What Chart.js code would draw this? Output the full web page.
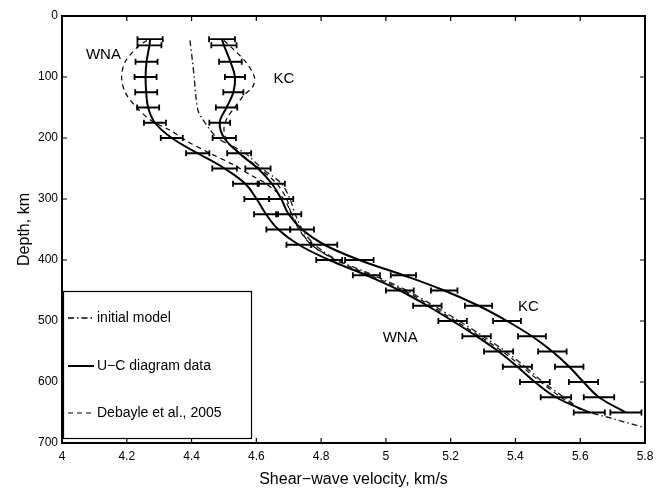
<!DOCTYPE html>
<html>
<head>
<meta charset="utf-8">
<script src="https://cdn.jsdelivr.net/npm/chart.js@4.4.0/dist/chart.umd.min.js"></script>
<style>
  html, body { margin: 0; padding: 0; background: #fff; }
  canvas { display: block; }
</style>
</head>
<body>
<canvas id="chart" width="663" height="489"></canvas>
<script>
// depth of each U-C point, km
var depths = [38, 48, 75, 100, 125, 150, 175, 200, 225, 250, 275, 300, 325,
              350, 375, 400, 425, 450, 475, 500, 525, 550, 575, 600, 625, 650];

var wnaVel = [4.272, 4.270, 4.261, 4.258, 4.260, 4.266, 4.287, 4.339, 4.419, 4.502, 4.566, 4.601, 4.630,
              4.668, 4.731, 4.825, 4.940, 5.043, 5.128, 5.206, 5.280, 5.348, 5.406, 5.460, 5.525, 5.628];
var wnaErr = [0.039, 0.037, 0.034, 0.034, 0.034, 0.034, 0.034, 0.034, 0.036, 0.038, 0.038, 0.038, 0.037,
              0.037, 0.038, 0.040, 0.042, 0.043, 0.044, 0.044, 0.044, 0.045, 0.045, 0.046, 0.047, 0.048];

var kcVel = [4.494, 4.500, 4.520, 4.534, 4.529, 4.508, 4.487, 4.501, 4.547, 4.605, 4.648, 4.677, 4.700,
             4.741, 4.810, 4.918, 5.054, 5.180, 5.286, 5.374, 5.451, 5.514, 5.566, 5.610, 5.658, 5.741];
var kcErr = [0.040, 0.039, 0.035, 0.031, 0.031, 0.033, 0.032, 0.036, 0.037, 0.039, 0.040, 0.037, 0.039,
             0.037, 0.040, 0.044, 0.039, 0.041, 0.042, 0.043, 0.043, 0.044, 0.044, 0.045, 0.047, 0.048];

var initDepth = [40, 75, 100, 130, 155, 170, 185, 200, 225, 250, 275, 300, 325, 350, 375,
                 400, 425, 450, 475, 500, 525, 550, 575, 600, 625, 645, 660, 675];
var initVel = [4.395, 4.403, 4.408, 4.413, 4.420, 4.435, 4.455, 4.480, 4.565, 4.618, 4.678, 4.704, 4.720, 4.742, 4.780,
               4.850, 4.962, 5.065, 5.148, 5.226, 5.300, 5.370, 5.430, 5.485, 5.550, 5.605, 5.700, 5.800];

var debWnaDepth = [40, 50, 75, 100, 125, 150, 172, 187, 205, 225, 244, 260, 275, 300, 325, 350, 375,
                   400, 450, 500, 550, 600, 625, 645];
var debWnaVel = [4.262, 4.235, 4.195, 4.184, 4.195, 4.230, 4.277, 4.333, 4.385, 4.457, 4.530, 4.580, 4.630, 4.685, 4.710, 4.735, 4.770,
                 4.845, 5.055, 5.215, 5.360, 5.478, 5.540, 5.600];

var debKcDepth = [40, 55, 77, 100, 115, 131, 152, 167, 185, 205, 225, 250, 275, 300, 325, 350, 375, 400];
var debKcVel = [4.500, 4.530, 4.570, 4.594, 4.590, 4.560, 4.530, 4.510, 4.500, 4.510, 4.550, 4.610, 4.663, 4.694, 4.708, 4.732, 4.770, 4.845];

var xTicks = [4, 4.2, 4.4, 4.6, 4.8, 5, 5.2, 5.4, 5.6, 5.8];
var yTicks = [0, 100, 200, 300, 400, 500, 600, 700];

function pts(vel, dep) {
  return vel.map(function (v, i) { return { x: v, y: dep[i] }; });
}

var FONT = '"Liberation Sans", Arial, Helvetica, sans-serif';
var DASH_DOT = [6, 3, 1.5, 3];
var DASH = [5, 4];

var decorations = {
  id: 'decorations',
  afterDatasetsDraw: function (chart) {
    var ctx = chart.ctx;
    var xs = chart.scales.x, ys = chart.scales.y;
    ctx.save();
    ctx.strokeStyle = '#000';
    ctx.lineWidth = 1.8;
    [[wnaVel, wnaErr], [kcVel, kcErr]].forEach(function (s) {
      s[0].forEach(function (v, i) {
        var y = ys.getPixelForValue(depths[i]);
        var x1 = xs.getPixelForValue(v - s[1][i]);
        var x2 = xs.getPixelForValue(v + s[1][i]);
        ctx.beginPath();
        ctx.moveTo(x1, y); ctx.lineTo(x2, y);
        ctx.moveTo(x1, y - 3); ctx.lineTo(x1, y + 3);
        ctx.moveTo(x2, y - 3); ctx.lineTo(x2, y + 3);
        ctx.stroke();
      });
    });

    // curve names
    ctx.fillStyle = '#000';
    ctx.font = '15px ' + FONT;
    ctx.textAlign = 'center';
    ctx.textBaseline = 'middle';
    ctx.fillText('WNA', xs.getPixelForValue(4.128), ys.getPixelForValue(64));
    ctx.fillText('KC', xs.getPixelForValue(4.685), ys.getPixelForValue(103));
    ctx.fillText('KC', xs.getPixelForValue(5.44), ys.getPixelForValue(477));
    ctx.fillText('WNA', xs.getPixelForValue(5.044), ys.getPixelForValue(527));
    ctx.restore();
  },
  afterDraw: function (chart) {
    var ctx = chart.ctx;
    var a = chart.chartArea;
    var xs = chart.scales.x, ys = chart.scales.y;
    ctx.save();
    ctx.strokeStyle = '#000';

    // inward ticks on all four sides
    ctx.lineWidth = 1.2;
    ctx.beginPath();
    xTicks.slice(1, -1).forEach(function (v) {
      var x = xs.getPixelForValue(v);
      ctx.moveTo(x, a.bottom); ctx.lineTo(x, a.bottom - 5);
      ctx.moveTo(x, a.top); ctx.lineTo(x, a.top + 5);
    });
    yTicks.slice(1, -1).forEach(function (v) {
      var y = ys.getPixelForValue(v);
      ctx.moveTo(a.left, y); ctx.lineTo(a.left + 5, y);
      ctx.moveTo(a.right, y); ctx.lineTo(a.right - 5, y);
    });
    ctx.stroke();

    // legend box
    var lx = a.left + 1, ly = 291, lw = 188, lh = 147;
    ctx.fillStyle = '#fff';
    ctx.fillRect(lx, ly, lw, lh);
    ctx.lineWidth = 1.2;
    ctx.strokeRect(lx + 0.5, ly + 0.5, lw, lh);

    var entries = [
      { text: 'initial model', dash: DASH_DOT, width: 1.4, y: 318 },
      { text: 'U\u2212C diagram data', dash: [], width: 2, y: 366 },
      { text: 'Debayle et al., 2005', dash: DASH, width: 1.2, y: 413 }
    ];
    ctx.font = '14px ' + FONT;
    ctx.textAlign = 'left';
    ctx.textBaseline = 'middle';
    ctx.fillStyle = '#000';
    entries.forEach(function (e) {
      ctx.setLineDash(e.dash);
      ctx.lineWidth = e.width;
      ctx.beginPath();
      ctx.moveTo(lx + 5, e.y); ctx.lineTo(lx + 31, e.y);
      ctx.stroke();
      ctx.setLineDash([]);
      ctx.fillText(e.text, lx + 34, e.y);
    });

    // plot frame
    ctx.lineWidth = 2;
    ctx.strokeRect(a.left, a.top, a.right - a.left, a.bottom - a.top);
    ctx.restore();
  }
};

var ctx = document.getElementById('chart').getContext('2d');
var chart = new Chart(ctx, {
  type: 'scatter',
  data: {
    datasets: [
      {
        label: 'initial model',
        data: pts(initVel, initDepth),
        showLine: true, pointRadius: 0, tension: 0.3,
        borderColor: '#222', borderWidth: 1.4, borderDash: DASH_DOT
      },
      {
        label: 'Debayle WNA',
        data: pts(debWnaVel, debWnaDepth),
        showLine: true, pointRadius: 0, tension: 0.3,
        borderColor: '#000', borderWidth: 1.2, borderDash: DASH
      },
      {
        label: 'Debayle KC',
        data: pts(debKcVel, debKcDepth),
        showLine: true, pointRadius: 0, tension: 0.3,
        borderColor: '#000', borderWidth: 1.2, borderDash: DASH
      },
      {
        label: 'U-C WNA',
        data: pts(wnaVel, depths),
        showLine: true, pointRadius: 0, tension: 0.4,
        borderColor: '#000', borderWidth: 2
      },
      {
        label: 'U-C KC',
        data: pts(kcVel, depths),
        showLine: true, pointRadius: 0, tension: 0.4,
        borderColor: '#000', borderWidth: 2
      }
    ]
  },
  options: {
    responsive: false,
    animation: false,
    layout: { padding: { top: 16, right: 18, left: 0, bottom: 0 } },
    plugins: {
      legend: { display: false },
      tooltip: { enabled: false }
    },
    scales: {
      x: {
        type: 'linear',
        min: 4, max: 5.8,
        afterBuildTicks: function (s) { s.ticks = xTicks.map(function (v) { return { value: v }; }); },
        afterFit: function (s) { s.height = 46; },
        grid: { display: false, drawTicks: false },
        border: { display: false },
        ticks: {
          padding: 6, color: '#000', maxRotation: 0,
          font: { family: FONT, size: 12 },
          callback: function (v) { return String(Number(v.toFixed(1))); }
        },
        title: {
          display: true, text: 'Shear\u2212wave velocity, km/s', color: '#000',
          font: { family: FONT, size: 16 }, padding: { top: 0, bottom: 0 }
        }
      },
      y: {
        type: 'linear',
        reverse: true,
        min: 0, max: 700,
        afterBuildTicks: function (s) { s.ticks = yTicks.map(function (v) { return { value: v }; }); },
        afterFit: function (s) { s.width = 62; },
        grid: { display: false, drawTicks: false },
        border: { display: false },
        ticks: {
          padding: 4, color: '#000',
          font: { family: FONT, size: 12 }
        },
        title: {
          display: true, text: 'Depth, km', color: '#000',
          font: { family: FONT, size: 16 }, padding: { top: 15, bottom: 0 }
        }
      }
    }
  },
  plugins: [decorations]
});
</script>
</body>
</html>
